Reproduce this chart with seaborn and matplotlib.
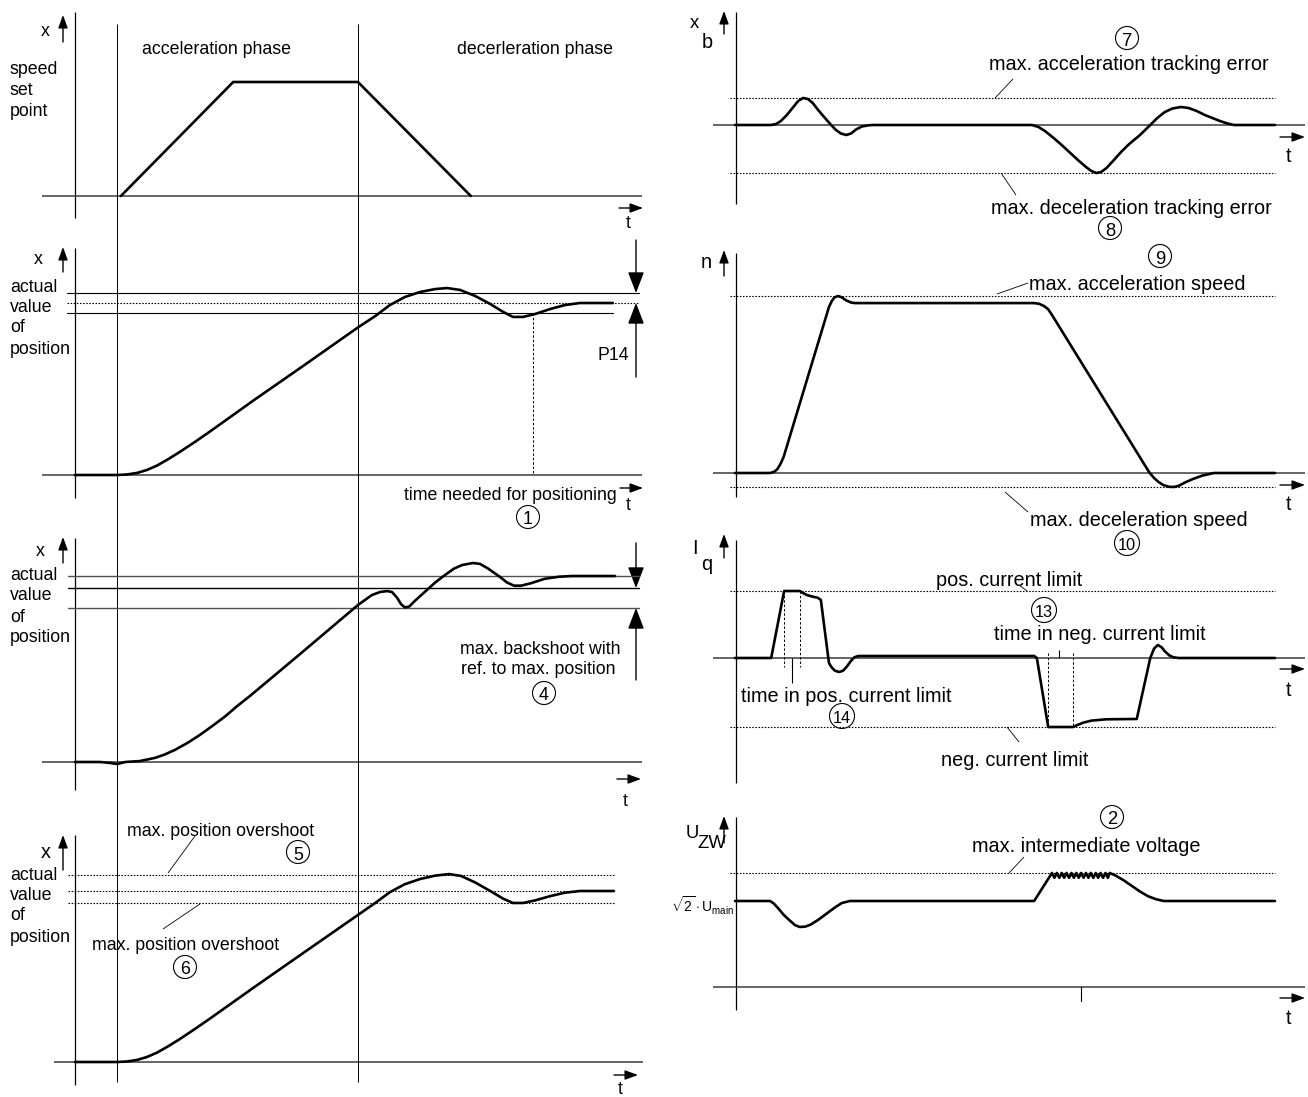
import matplotlib
matplotlib.use("Agg")
import matplotlib.pyplot as plt
import seaborn as sns
from matplotlib.patches import Circle

# ---- data (time in arbitrary units, 0 = vertical axis) ----
phase_bounds_t = [7.8, 52.4]          # start / end of acceleration phase

setpoint_t = [8.5, 29.3, 52.4, 73.3]
setpoint_v = [0, 100, 100, 0]

pos1_t = [0, 7.8, 9.6, 11.5, 13.3, 15.2, 17.2, 19.4, 22.2, 25.0, 33.3, 41.7, 52.4, 55.6, 58.3,
          61.1, 63.9, 66.7, 68.9, 71.3, 74.1, 76.9, 79.3, 81.1, 83.0, 85.2, 88.0, 90.7, 93.5, 99.6]
pos1_v = [0, 0, 0.3, 1.2, 2.9, 5.5, 9.1, 13.4, 19.2, 25.3, 43.9, 62.2, 85.8, 92.4, 98.8,
          103.5, 106.4, 108.1, 108.7, 107.6, 104.1, 99.4, 94.8, 91.9, 91.9, 93.6, 96.5, 98.8, 100, 100]
pos1_levels = [105.8, 100, 94.2]       # upper window, target, lower window
positioning_t = 84.8

pos2_t = [0, 4.6, 6.5, 7.8, 9.3, 12.0, 14.8, 16.6, 18.5, 20.8, 23.1, 25.4, 27.8, 30.0, 32.4,
          41.7, 49.1, 52.4, 55.0, 56.5, 57.8, 58.7, 59.6, 60.4, 61.1, 61.9, 63.0, 64.8, 66.7,
          68.5, 70.2, 71.7, 73.7, 75.0, 76.5, 78.7, 80.0, 81.3, 82.6, 84.3, 87.0, 89.6, 92.0, 100]
pos2_v = [0, 0, -0.5, -1.1, 0, 0.5, 2.2, 4.0, 6.5, 10.2, 14.5, 19.3, 24.5, 30.0, 35.5,
          58.1, 76.3, 84.4, 89.8, 91.4, 91.9, 91.4, 88.5, 84.8, 83.1, 83.6, 86.8, 91.5, 96.5,
          100.5, 104.0, 105.9, 107.0, 106.5, 104.0, 99.5, 96.5, 94.8, 94.8, 96.0, 98.5, 99.6, 100, 100]
pos2_levels = [100, 93.5, 82.8]

pos3_t = [0, 7.8, 9.6, 11.5, 13.3, 15.2, 17.2, 19.4, 22.2, 25.0, 33.3, 41.7, 52.4, 55.6, 58.3,
          61.1, 63.9, 66.7, 69.3, 71.5, 74.1, 76.9, 79.3, 81.1, 83.0, 85.2, 88.0, 90.7, 93.5, 99.8]
pos3_v = [0, 0, 0.3, 1.2, 2.9, 5.5, 9.1, 13.4, 19.3, 25.4, 44.0, 62.5, 86.0, 93.0, 99.3,
          104.0, 107.0, 109.0, 109.9, 108.8, 105.0, 100.0, 95.5, 93.0, 93.0, 94.5, 97.0, 99.0, 100, 100]
pos3_levels = [109.4, 100, 93.0]

err_t = [0, 6.7, 7.6, 8.5, 9.6, 10.8, 11.7, 12.6, 13.5, 14.4, 15.4, 16.5, 17.8, 18.7, 19.6,
         20.6, 21.5, 22.4, 23.5, 24.8, 25.6, 55.0, 56.2, 57.4, 59.0, 60.5, 62.0, 63.5, 65.0,
         66.0, 66.9, 67.8, 68.8, 70.0, 71.5, 73.0, 75.0, 76.9, 78.2, 79.6, 81.0, 82.6, 84.0,
         85.5, 87.0, 88.4, 89.8, 91.2, 92.4, 100]
err_v = [0, 0, 2, 8, 20, 36, 48, 54, 52, 44, 30, 16, 0, -10, -17,
         -20, -17, -9, -3, -0.5, 0, 0, -4, -12, -26, -40, -55, -70, -84,
         -92, -96, -94, -86, -72, -54, -38, -20, 0, 14, 26, 33, 36, 34,
         28, 20, 14, 8, 3, 0, 0]
err_limits = [54, -96]

speed_t = [0, 6.5, 7.2, 7.8, 8.4, 9.0, 17.4, 17.9, 18.4, 19.1, 19.8, 20.6, 21.5, 22.2, 55.4,
           56.3, 57.2, 58.0, 58.7, 76.1, 76.8, 77.6, 78.4, 79.3, 80.4, 81.3, 82.2, 83.3, 84.8,
           86.5, 88.7, 100]
speed_v = [0, 0, 0.6, 2, 5, 9, 93.8, 97, 99.2, 100, 99.2, 97.5, 96.3, 96, 96,
           95.6, 94.4, 92.5, 89.3, 3.4, 0, -2.8, -5, -6.8, -7.8, -7.9, -7.2, -5.4, -3.4,
           -1.5, 0, 0]
speed_limits = [100, -7.9]

iq_t = [0, 6.7, 9.1, 12.0, 12.6, 13.3, 14.4, 15.3, 15.9, 17.4, 17.9, 18.5, 19.3, 20.0, 20.7,
        21.5, 22.1, 22.8, 55.4, 55.9, 58.0, 62.6, 63.4, 64.5, 66.0, 68.7, 74.4, 76.9, 77.6,
        78.3, 79.0, 79.6, 80.4, 81.2, 82.2, 100]
iq_v = [0, 0, 100, 100, 97, 94, 91.5, 90, 86.6, -7.5, -14, -19, -20.9, -19, -13,
        -4, 1, 3, 3, 0, -103, -103, -100, -96.5, -93.5, -91.5, -91, 0, 14,
        19.4, 16, 10, 4, 1, 0, 0]
iq_limits = [100, -103]
iq_pos_limit_t = [9.1, 12.0]
iq_neg_limit_t = [58.0, 62.6]

uzw_t = [0, 6.5, 7.2, 8.0, 9.0, 10.2, 11.1, 12.0, 13.0, 14.0, 15.5, 17.0, 18.5, 19.8, 21.3,
         55.4, 58.7, 59.15, 59.6, 60.05, 60.5, 60.95, 61.4, 61.85, 62.3, 62.75, 63.2, 63.65,
         64.1, 64.55, 65.0, 65.45, 65.9, 66.35, 66.8, 67.25, 67.7, 68.15, 68.6, 69.05, 69.4,
         70.5, 72.0, 73.5, 75.0, 76.5, 78.0, 79.4, 100]
uzw_v = [100, 100, 97, 91.5, 84, 77, 72, 69.8, 70.2, 72.5, 78.5, 85.5, 92.5, 97.7, 100,
         100, 132.6, 127, 132.6, 127, 132.6, 127, 132.6, 127, 132.6, 127, 132.6, 127,
         132.6, 127, 132.6, 127, 132.6, 127, 132.6, 127, 132.6, 127, 132.6, 127, 132.6,
         129.5, 124, 117.5, 111, 105.5, 102, 100, 100]
uzw_max = 132.6
uzw_tick_t = 64.1

# ---- layout (pixel geometry of the sheet) ----
W, H = 1308, 1097
PANELS = {
    "L1": dict(box=(0, 0, 660, 232), ax0=75, base=196, sx=5.4, sy=1.14),
    "L2": dict(box=(0, 232, 660, 522), ax0=75, base=475, sx=5.4, sy=1.72),
    "L3": dict(box=(0, 522, 660, 812), ax0=75, base=762, sx=5.4, sy=1.86),
    "L4": dict(box=(0, 812, 660, 1097), ax0=75, base=1062, sx=5.4, sy=1.71),
    "R1": dict(box=(660, 0, 1308, 240), ax0=735, base=125, sx=5.4, sy=0.5),
    "R2": dict(box=(660, 240, 1308, 522), ax0=735, base=473, sx=5.4, sy=1.77),
    "R3": dict(box=(660, 522, 1308, 790), ax0=735, base=658, sx=5.4, sy=0.67),
    "R4": dict(box=(660, 790, 1308, 1097), ax0=735, base=987, sx=5.4, sy=0.86),
}

sns.set_theme(style="white")
plt.rcParams["font.family"] = ["Liberation Sans", "DejaVu Sans"]
plt.rcParams["mathtext.fontset"] = "custom"
plt.rcParams["mathtext.rm"] = "Liberation Sans"
plt.rcParams["mathtext.it"] = "Liberation Sans:italic"

fig = plt.figure(figsize=(W / 100, H / 100), dpi=100)
fig.patch.set_facecolor("white")

frame = fig.add_axes([0, 0, 1, 1])
frame.set_xlim(0, W)
frame.set_ylim(H, 0)
frame.axis("off")

LS, RS = 12.8, 14.3   # font sizes left / right column


def panel(key):
    p = PANELS[key]
    x0, y0, x1, y1 = p["box"]
    ax = fig.add_axes([x0 / W, (H - y1) / H, (x1 - x0) / W, (y1 - y0) / H])
    ax.set_facecolor("none")
    ax.axis("off")
    ax._lim = ((x0 - p["ax0"]) / p["sx"], (x1 - p["ax0"]) / p["sx"],
               (p["base"] - y1) / p["sy"], (p["base"] - y0) / p["sy"])
    return ax


def finish(ax):
    ax.set_xlim(ax._lim[0], ax._lim[1])
    ax.set_ylim(ax._lim[2], ax._lim[3])
    ax.axis("off")
    if ax.get_legend():
        ax.get_legend().remove()


def trace(ax, t, v):
    sns.lineplot(x=t, y=v, ax=ax, sort=False, estimator=None, color="black",
                 linewidth=1.9, solid_joinstyle="round", solid_capstyle="round")


def level(ax, v, t0, t1, ls=(0, (1.4, 1.4)), lw=0.8, color="black"):
    ax.plot([t0, t1], [v, v], ls=ls, lw=lw, color=color, clip_on=False)


def vline(ax, t, v0, v1, ls=(0, (2.5, 2)), lw=0.7, color="black"):
    ax.plot([t, t], [v0, v1], ls=ls, lw=lw, color=color, clip_on=False)


def fline(x0, y0, x1, y1, lw=0.75, color="black", ls="-"):
    frame.plot([x0, x1], [y0, y1], lw=lw, color=color, ls=ls, solid_capstyle="butt")


def farrow(x0, y0, x1, y1, ms=13, lw=1.0, head="-|>,head_length=0.6,head_width=0.22"):
    frame.annotate("", xy=(x1, y1), xytext=(x0, y0),
                   arrowprops=dict(arrowstyle=head, lw=lw, color="black",
                                   mutation_scale=ms, shrinkA=0, shrinkB=0))


def ftext(x, y, s, size, ha="left", va="center_baseline"):
    frame.text(x, y, s, fontsize=size, ha=ha, va=va, color="black")


def circ(x, y, s, size, r=11.5):
    frame.add_patch(Circle((x, y), r, fill=False, lw=0.8, color="black"))
    ftext(x, y + 1, s, size, ha="center")


# ---- frame: axes, guide lines, axis arrows ----
for x, y0, y1 in [(75, 12, 218), (75, 248, 498), (75, 538, 790), (75, 835, 1085),
                  (736, 12, 204), (736, 253, 497), (736, 540, 783), (736, 817, 1010)]:
    fline(x, y0, x, y1, lw=0.9)
for y, x0, x1 in [(196, 42, 642), (475, 42, 642), (762, 42, 642), (1062, 54, 643),
                  (125, 713, 1305), (473, 713, 1305), (658, 713, 1305), (987, 713, 1305)]:
    fline(x0, y, x1, y, lw=1.1, color="#3c3c3c")
for x, y0, y1 in [(63, 42, 15), (63, 272, 247), (63, 563, 537), (63, 870, 835),
                  (724, 34, 11), (724, 276, 250), (724, 558, 534), (724, 843, 816)]:
    farrow(x, y0, x, y1)
for y, x0, x1 in [(208, 619, 643), (488, 620, 643), (779, 617, 641), (1075, 614, 638),
                  (137, 1280, 1305), (485, 1280, 1305), (669, 1280, 1305), (998, 1280, 1305)]:
    farrow(x0, y, x1, y)
for x, y in [(628, 222), (628, 503), (625, 800), (620, 1088)]:
    ftext(x, y, "t", LS, ha="center")
for x, y in [(1288, 155), (1288, 503), (1288, 688), (1288, 1016)]:
    ftext(x, y, "t", RS, ha="center")

# left labels
ftext(45, 29, "x", LS, ha="center")
for i, w in enumerate(["speed", "set", "point"]):
    ftext(10, 68 + 20.5 * i, w, LS)
for (xx, yx), ys in [((38, 258), [285, 305, 326, 347]), ((40, 550), [573, 594, 615, 636]),
                     ((46, 851), [873, 893, 914, 935])]:
    ftext(xx, yx, "x", LS + (1.5 if yx > 800 else 0), ha="center")
    for w, y in zip(["actual", "value", "of", "position"], ys):
        ftext(10, y, w, LS)
ftext(217, 47, "acceleration phase", LS, ha="center")
ftext(535, 47, "decerleration phase", LS, ha="center")
for x in [75 + 5.4 * t for t in phase_bounds_t]:
    fline(x, 24, x, 1082, lw=0.7)

# ---- panel L1: speed set point ----
ax = panel("L1")
sns.lineplot(x=setpoint_t, y=setpoint_v, ax=ax, sort=False, estimator=None, color="black",
             linewidth=1.9, solid_joinstyle="miter")
finish(ax)

# ---- panel L2: time needed for positioning ----
ax = panel("L2")
level(ax, pos1_levels[0], -1.5, 104.4, ls="-", lw=0.8)
level(ax, pos1_levels[1], -1.5, 104.4)
level(ax, pos1_levels[2], -1.5, 99.6, ls="-", lw=0.8)
vline(ax, positioning_t, pos1_levels[2], 0)
trace(ax, pos1_t, pos1_v)
finish(ax)
farrow(636, 240, 636, 293, ms=10, head="-|>,head_length=1.3,head_width=0.5")
farrow(636, 377, 636, 303, ms=10, head="-|>,head_length=1.3,head_width=0.5")
ftext(613, 353, "P14", LS, ha="center")
ftext(617, 493, "time needed for positioning", LS, ha="right")
circ(528, 517, "1", LS)

# ---- panel L3: backshoot ----
ax = panel("L3")
for v, c in zip(pos2_levels, ["#505050", "black", "#505050"]):
    level(ax, v, -1.3, 104.4, ls="-", lw=1.0, color=c)
trace(ax, pos2_t, pos2_v)
finish(ax)
farrow(636, 543, 636, 588, ms=10, head="-|>,head_length=1.3,head_width=0.5")
farrow(636, 680, 636, 608, ms=10, head="-|>,head_length=1.3,head_width=0.5")
ftext(540, 648, "max. backshoot with", LS, ha="center")
ftext(538, 668, "ref. to max. position", LS, ha="center")
circ(544, 693, "4", LS)

# ---- panel L4: overshoot ----
ax = panel("L4")
for v in pos3_levels:
    level(ax, v, -1.3, 99.8)
trace(ax, pos3_t, pos3_v)
finish(ax)
fline(195, 836, 168, 873, lw=0.6)
fline(200, 904, 163, 929, lw=0.6)
ftext(127, 829, "max. position overshoot", LS)
circ(298, 852, "5", LS)
ftext(92, 944, "max. position overshoot", LS)
circ(185, 967, "6", LS)

# ---- panel R1: tracking error ----
ax = panel("R1")
for v in err_limits:
    level(ax, v, -0.9, 100)
trace(ax, err_t, err_v)
finish(ax)
ftext(694, 22, "x", RS - 1, ha="center")
ftext(707, 40, "b", RS, ha="center")
fline(1013, 79, 995, 98, lw=0.6)
fline(1001, 173, 1016, 195, lw=0.6)
circ(1127, 38, "7", RS - 1)
ftext(1129, 62, "max. acceleration tracking error", RS, ha="center")
ftext(1131, 206, "max. deceleration tracking error", RS, ha="center")
circ(1110, 228, "8", RS - 1)

# ---- panel R2: speed ----
ax = panel("R2")
for v in speed_limits:
    level(ax, v, -0.9, 100)
trace(ax, speed_t, speed_v)
finish(ax)
ftext(706, 260, "n", RS, ha="center")
fline(1028, 283, 997, 294, lw=0.6)
fline(1005, 492, 1028, 512, lw=0.6)
circ(1160, 256, "9", RS - 1)
ftext(1029, 283, "max. acceleration speed", RS)
ftext(1030, 518, "max. deceleration speed", RS)
circ(1127, 543, "10", RS - 2.5, r=12.5)

# ---- panel R3: current ----
ax = panel("R3")
for v in iq_limits:
    level(ax, v, -0.9, 100)
for t in iq_pos_limit_t:
    vline(ax, t, iq_limits[0], -13.4)
for t in iq_neg_limit_t:
    vline(ax, t, 7.5, iq_limits[1])
trace(ax, iq_t, iq_v)
finish(ax)
fline(792, 658, 792, 683, lw=0.8)
fline(1059, 650, 1059, 658, lw=0.8)
fline(1019, 585, 1027, 591, lw=0.6)
fline(1007, 727, 1019, 742, lw=0.6)
ftext(695, 546, "I", RS, ha="center")
ftext(707, 563, "q", RS, ha="center")
ftext(936, 579, "pos. current limit", RS)
circ(1044, 610, "13", RS - 2.5, r=12.5)
ftext(994, 633, "time in neg. current limit", RS)
ftext(741, 695, "time in pos. current limit", RS)
circ(842, 716, "14", RS - 2.5, r=12.5)
ftext(941, 758, "neg. current limit", RS)

# ---- panel R4: intermediate voltage ----
ax = panel("R4")
level(ax, uzw_max, -0.9, 100)
trace(ax, uzw_t, uzw_v)
vline(ax, uzw_tick_t, 0, -16.3, ls="-", lw=0.8)
finish(ax)
ftext(692, 832, "U", RS - 1, ha="center")
ftext(712, 841, "ZW", RS - 1, ha="center")
ftext(734, 904, r"$\sqrt{2}\cdot\mathrm{U}_{\mathrm{main}}$", 10, ha="right")
fline(1024, 857, 1009, 873, lw=0.6)
circ(1112, 817, "2", RS - 1)
ftext(972, 844, "max. intermediate voltage", RS)

fig.savefig("out.png", dpi=100, facecolor="white")
